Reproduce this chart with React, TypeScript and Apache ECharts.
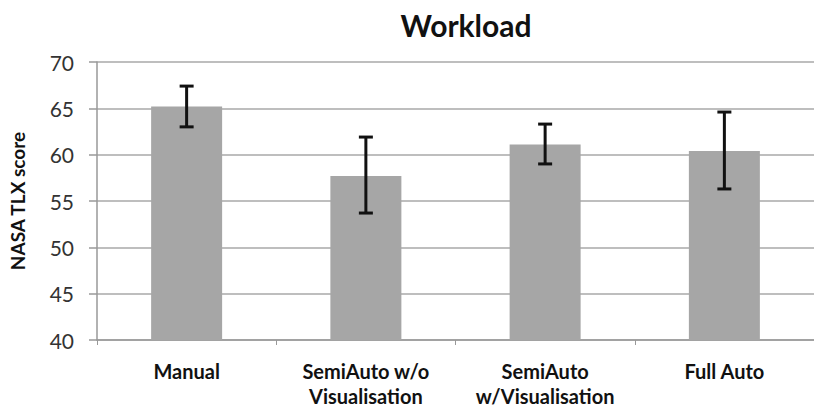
import React, { useEffect, useRef } from "react";
import * as echarts from "echarts";

const categories = ["Manual", "SemiAuto w/o\nVisualisation", "SemiAuto\nw/Visualisation", "Full Auto"];
const means = [65.2, 57.7, 61.1, 60.4];
const errHigh = [67.4, 61.9, 63.3, 64.6];
const errLow = [63.0, 53.7, 59.0, 56.3];
const yTicks = [40, 45, 50, 55, 60, 65, 70];

export default function App() {
  const ref = useRef<HTMLDivElement>(null);
  useEffect(() => {
    const chart = echarts.init(ref.current!, null, { renderer: "svg" });
    const font = "Lato, 'Open Sans', sans-serif";
    chart.setOption({
      animation: false,
      backgroundColor: "#ffffff",
      title: {
        text: "Workload",
        left: 461,
        textAlign: "center",
        top: 5,
        textStyle: { fontFamily: font, fontWeight: "bold", fontSize: 30, color: "#111" },
      },
      grid: { left: 95, top: 62, width: 728, height: 278 },
      xAxis: {
        type: "category",
        data: categories,
        axisLine: { lineStyle: { color: "#999", width: 1.5 } },
        axisTick: { show: true, alignWithLabel: false, length: 5, lineStyle: { color: "#999" } },
        axisLabel: {
          fontFamily: font,
          fontWeight: "bold",
          fontSize: 20,
          color: "#111",
          margin: 18,
          lineHeight: 25,
          interval: 0,
        },
      },
      yAxis: {
        type: "value",
        min: yTicks[0],
        max: yTicks[yTicks.length - 1],
        interval: 5,
        name: "NASA TLX score",
        nameLocation: "middle",
        nameGap: 70,
        nameTextStyle: { fontFamily: font, fontWeight: "bold", fontSize: 19, color: "#111" },
        axisLine: { show: true, lineStyle: { color: "#999", width: 1.5 } },
        axisTick: { show: true, length: 8, lineStyle: { color: "#999", width: 1.5 } },
        axisLabel: { fontFamily: font, fontSize: 21, color: "#333", margin: 23 },
        splitLine: { lineStyle: { color: "#a8a8a8", width: 1.5 } },
      },
      series: [
        {
          type: "bar",
          data: means,
          barWidth: 71,
          itemStyle: { color: "#a6a6a6" },
        },
        {
          type: "custom",
          data: categories.map((_, i) => [i, errLow[i], errHigh[i]]),
          renderItem: (params: any, api: any) => {
            const x = api.value(0);
            const lo = api.coord([x, api.value(1)]);
            const hi = api.coord([x, api.value(2)]);
            const cap = 7;
            const style = { stroke: "#111", lineWidth: 3 };
            return {
              type: "group",
              children: [
                { type: "line", shape: { x1: hi[0], y1: hi[1], x2: lo[0], y2: lo[1] }, style },
                { type: "line", shape: { x1: hi[0] - cap, y1: hi[1], x2: hi[0] + cap, y2: hi[1] }, style },
                { type: "line", shape: { x1: lo[0] - cap, y1: lo[1], x2: lo[0] + cap, y2: lo[1] }, style },
              ],
            };
          },
          z: 10,
        },
      ],
    });
    return () => chart.dispose();
  }, []);
  return (
    <div
      ref={ref}
      style={{ position: "absolute", left: 0, top: 0, width: 814, height: 412 }}
    />
  );
}
